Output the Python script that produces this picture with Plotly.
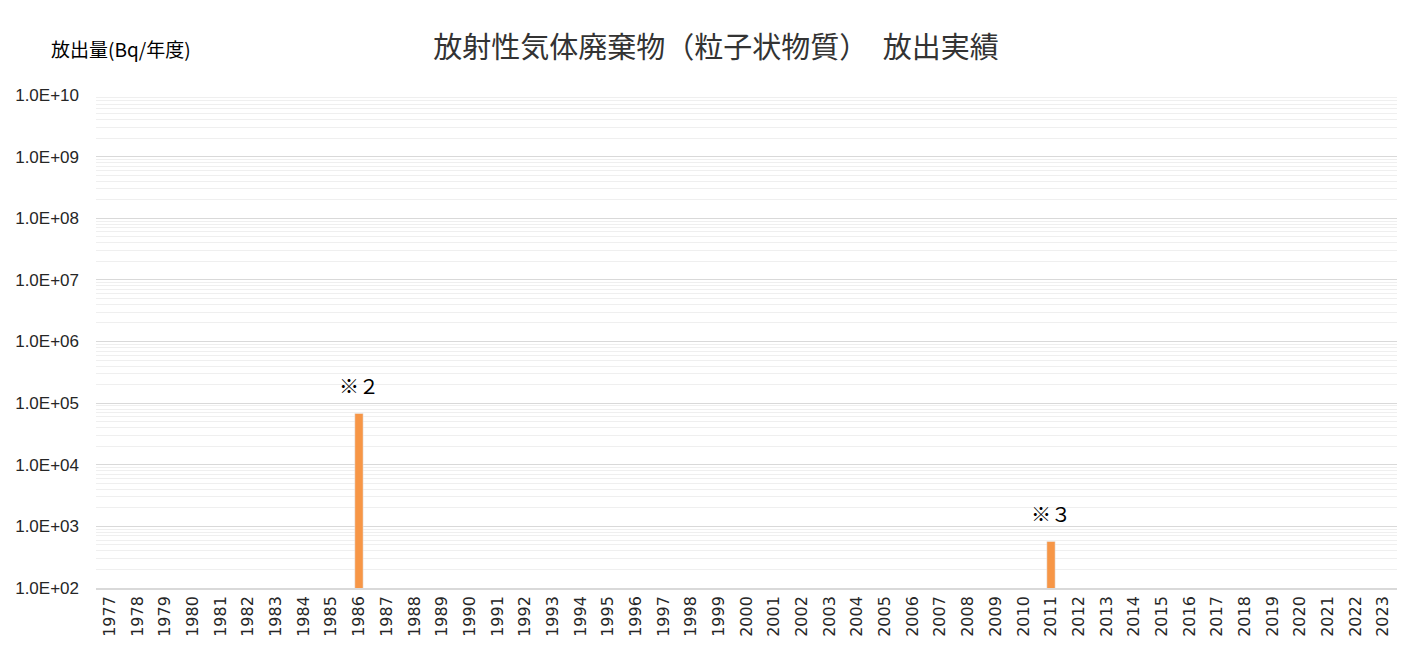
import math
import plotly.graph_objects as go

# fiscal years on the category axis
years = [str(y) for y in range(1977, 2024)]

# released amount (Bq / fiscal year); None = not detected
release = [None] * len(years)
release[years.index("1986")] = 6.8e4
release[years.index("2011")] = 5.7e2

# notes placed above the bars
note_years = ["1986", "2011"]
note_texts = ["※２", "※３"]
note_values = [6.8e4, 5.7e2]

ytick_vals = [1e2, 1e3, 1e4, 1e5, 1e6, 1e7, 1e8, 1e9, 1e10]
ytick_text = ["1.0E+02", "1.0E+03", "1.0E+04", "1.0E+05", "1.0E+06",
              "1.0E+07", "1.0E+08", "1.0E+09", "1.0E+10"]

font_jp = "Noto Sans CJK JP"

fig = go.Figure()
fig.add_trace(go.Bar(x=years, y=release, marker=dict(color="#F79646"),
                     hoverinfo="x+y"))

# annotations: category index for x (so "1986" is not a number), log10 for y on a log axis
for yr, txt, val in zip(note_years, note_texts, note_values):
    fig.add_annotation(x=years.index(yr), y=math.log10(val), yref="y", text=txt,
                       showarrow=False, yshift=28,
                       font=dict(size=20, color="#000000", family=font_jp))

fig.add_annotation(x=-0.0365, y=1.0, xref="paper", yref="paper", xanchor="left", yanchor="middle",
                   yshift=47, text="放出量(Bq/年度)", showarrow=False,
                   font=dict(size=19, color="#000000", family=font_jp))

fig.update_layout(
    width=1416, height=672,
    margin=dict(l=88, r=27, t=87, b=92),
    paper_bgcolor="white", plot_bgcolor="white",
    title=dict(text="放射性気体廃棄物（粒子状物質）　放出実績", x=0.5, xanchor="center",
               y=0.94, yanchor="middle",
               font=dict(size=29, color="#333333", family=font_jp)),
    bargap=0.7,
    showlegend=False,
    font=dict(family=font_jp, color="#333333"),
)
fig.update_xaxes(type="category", range=[-0.5, len(years) - 0.5], tickangle=-90,
                 tickfont=dict(size=16, color="#262626", family="DejaVu Sans"),
                 showgrid=False, showline=True, linecolor="#d9d9d9", linewidth=1.5, ticks="",
                 automargin=False)
fig.update_yaxes(type="log", range=[2, 10], tickvals=ytick_vals, ticktext=ytick_text,
                 tickfont=dict(size=17, color="#262626", family="Liberation Sans"),
                 gridcolor="#d9d9d9", zeroline=False, ticks="", ticklabelstandoff=16,
                 automargin=False,
                 minor=dict(dtick="D1", showgrid=True, gridcolor="#efefef", ticks=""))

fig.write_html("out.html")
